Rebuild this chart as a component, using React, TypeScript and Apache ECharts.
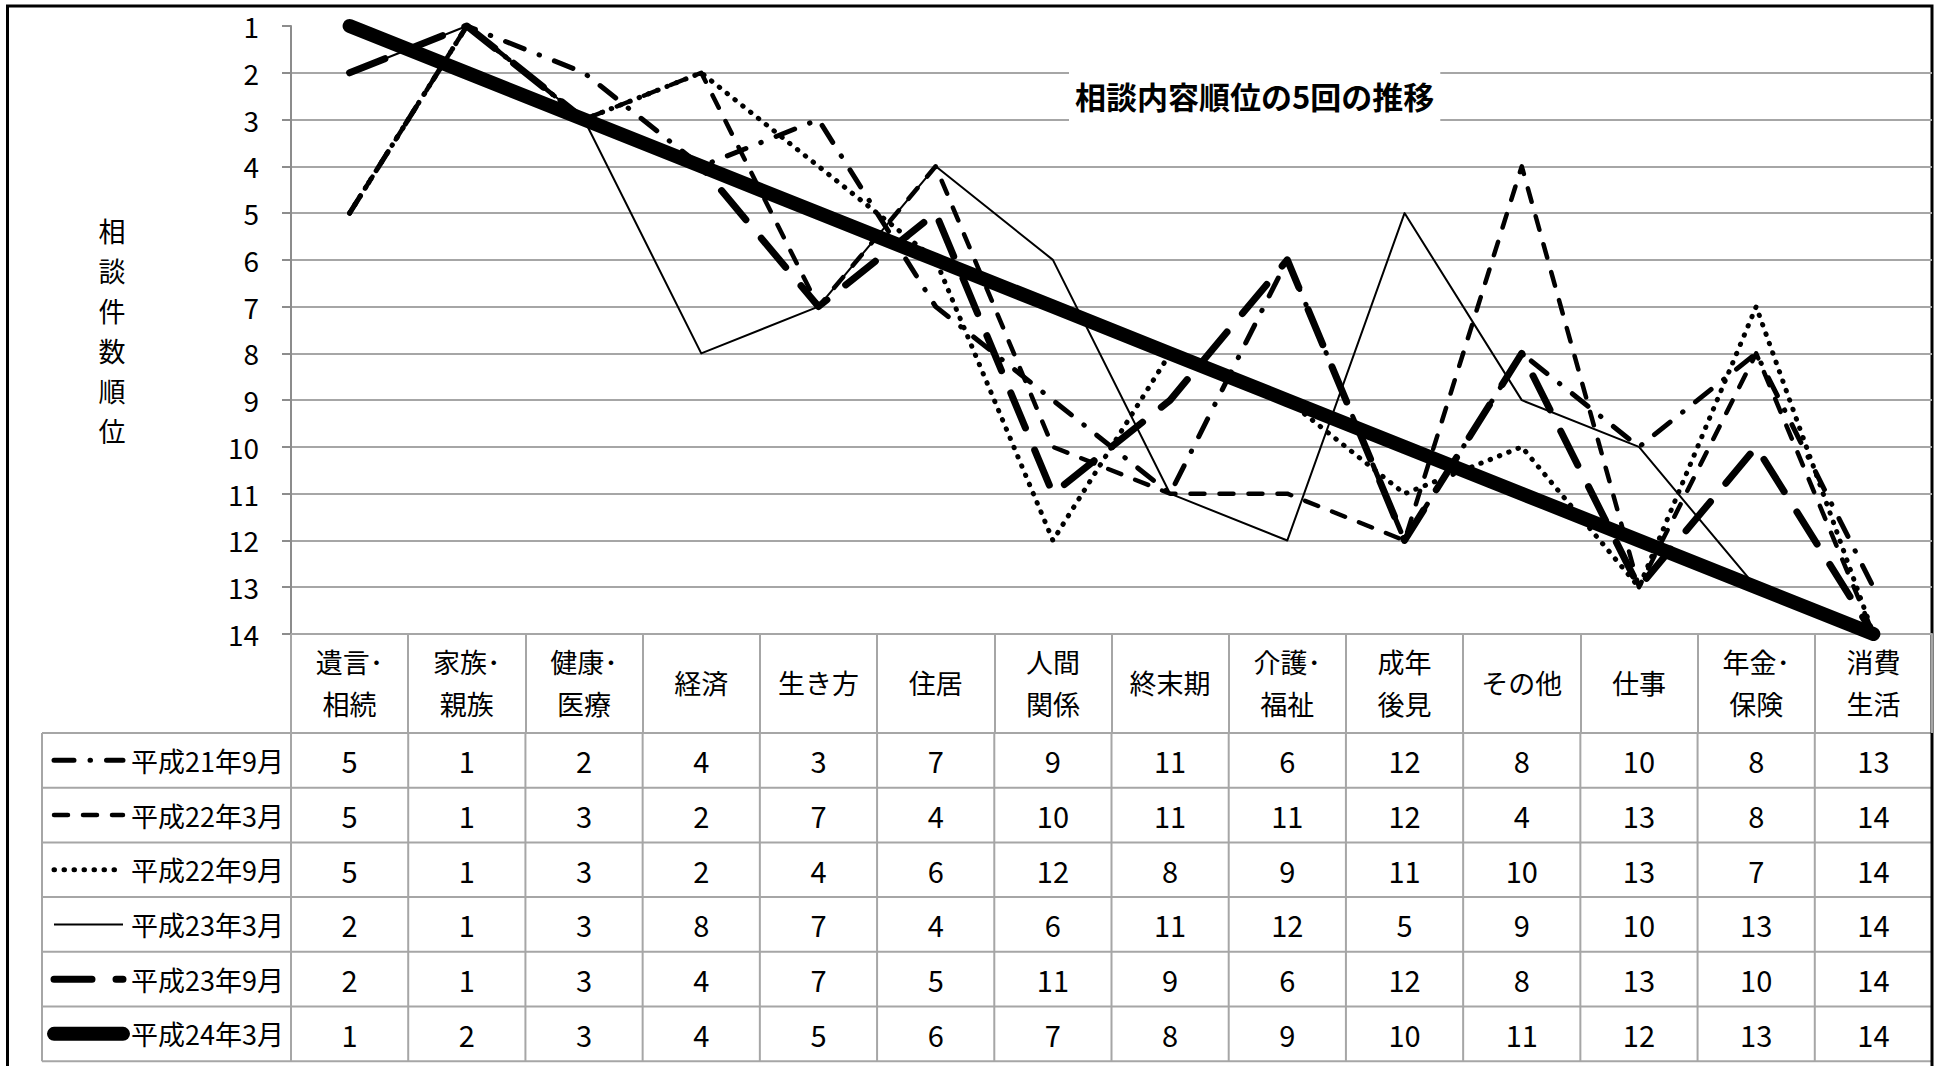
import React, { useEffect, useRef } from 'react';
import * as echarts from 'echarts';

// Consultation topics (x categories)
const categories = [
  '遺言･\n相続', '家族･\n親族', '健康･\n医療', '経済', '生き方', '住居', '人間\n関係',
  '終末期', '介護･\n福祉', '成年\n後見', 'その他', '仕事', '年金･\n保険', '消費\n生活',
];

// Survey rounds
const seriesNames = ['平成21年9月', '平成22年3月', '平成22年9月', '平成23年3月', '平成23年9月', '平成24年3月'];

// Rank of each topic per survey round
const rankH21Sep = [5, 1, 2, 4, 3, 7, 9, 11, 6, 12, 8, 10, 8, 13];
const rankH22Mar = [5, 1, 3, 2, 7, 4, 10, 11, 11, 12, 4, 13, 8, 14];
const rankH22Sep = [5, 1, 3, 2, 4, 6, 12, 8, 9, 11, 10, 13, 7, 14];
const rankH23Mar = [2, 1, 3, 8, 7, 4, 6, 11, 12, 5, 9, 10, 13, 14];
const rankH23Sep = [2, 1, 3, 4, 7, 5, 11, 9, 6, 12, 8, 13, 10, 14];
const rankH24Mar = [1, 2, 3, 4, 5, 6, 7, 8, 9, 10, 11, 12, 13, 14];

const rankRows = [rankH21Sep, rankH22Mar, rankH22Sep, rankH23Mar, rankH23Sep, rankH24Mar];

// Rank axis range
const rankMin = 1;
const rankMax = 14;

// Stroke style per round (dash-dot, dash, dot, thin solid, long dash, heavy solid)
const strokeStyles = [
  { width: 5, dash: [20, 16, 0.5, 16], cap: 'round' },
  { width: 4.5, dash: [14, 15], cap: 'round' },
  { width: 5, dash: [0.5, 9.5], cap: 'round' },
  { width: 2, dash: null, cap: 'butt' },
  { width: 7, dash: [38, 24], cap: 'round' },
  { width: 14, dash: null, cap: 'round' },
];

const W = 1945;
const H = 1066;
const GRID_LEFT = 291;
const GRID_RIGHT_X = 1932;
const GRID_TOP = 26;
const GRID_BOTTOM_Y = 634;
const HEADER_BOTTOM = 733;
const ROW_H = 54.7;
const TABLE_LEFT = 42;
const LEGEND_LINE_X0 = 54;
const LEGEND_LINE_X1 = 123;
const LEGEND_TEXT_RIGHT = 284;

const GRID_COLOR = '#a6a6a6';
const AXIS_COLOR = '#8c8c8c';
const CJK_FONT = '"Noto Sans CJK JP", "Noto Sans", sans-serif';
const NUM_FONT = '"Liberation Sans Narrow", "Noto Sans CJK JP", sans-serif';

function buildTable() {
  const els: any[] = [];
  const colW = (GRID_RIGHT_X - GRID_LEFT) / categories.length;
  const rows = seriesNames.length;
  const tableBottom = HEADER_BOTTOM + rows * ROW_H;
  const cellLine = { stroke: GRID_COLOR, lineWidth: 2 };

  for (let r = 0; r <= rows; r++) {
    const y = HEADER_BOTTOM + r * ROW_H;
    els.push({ type: 'line', silent: true, shape: { x1: TABLE_LEFT, y1: y, x2: GRID_RIGHT_X, y2: y }, style: cellLine });
  }
  const xs = [TABLE_LEFT];
  for (let c = 0; c <= categories.length; c++) xs.push(GRID_LEFT + c * colW);
  xs.forEach((x) => {
    els.push({ type: 'line', silent: true, shape: { x1: x, y1: HEADER_BOTTOM, x2: x, y2: tableBottom }, style: cellLine });
  });

  rankRows.forEach((row, r) => {
    const cy = HEADER_BOTTOM + (r + 0.5) * ROW_H;
    const s = strokeStyles[r];
    els.push({
      type: 'line',
      silent: true,
      shape: { x1: LEGEND_LINE_X0, y1: cy, x2: LEGEND_LINE_X1, y2: cy },
      style: { stroke: '#000', lineWidth: s.width, lineDash: s.dash || undefined, lineCap: s.cap },
    });
    els.push({
      type: 'text',
      silent: true,
      x: LEGEND_TEXT_RIGHT,
      y: cy,
      style: { text: seriesNames[r], align: 'right', verticalAlign: 'middle', fontSize: 27, fontFamily: NUM_FONT, fill: '#000' },
    });
    row.forEach((v, c) => {
      els.push({
        type: 'text',
        silent: true,
        x: GRID_LEFT + (c + 0.5) * colW,
        y: cy,
        style: { text: String(v), align: 'center', verticalAlign: 'middle', fontSize: 29, fontFamily: NUM_FONT, fill: '#000' },
      });
    });
  });

  // outer frame
  els.push({
    type: 'rect',
    silent: true,
    shape: { x: 7.5, y: 6, width: GRID_RIGHT_X - 7.5, height: H + 20 },
    style: { fill: 'none', stroke: '#000', lineWidth: 3 },
  });
  return els;
}

export default function App() {
  const ref = useRef<HTMLDivElement>(null);

  useEffect(() => {
    if (!ref.current) return;
    const chart = echarts.init(ref.current, null, { renderer: 'svg' });
    const option: any = {
      animation: false,
      backgroundColor: '#fff',
      title: {
        text: '相談内容順位の5回の推移',
        left: 1069,
        top: 50,
        padding: [30, 6],
        backgroundColor: '#fff',
        textStyle: { fontSize: 31, fontWeight: 'bold', fontFamily: CJK_FONT, color: '#000' },
      },
      grid: { left: GRID_LEFT, right: W - GRID_RIGHT_X, top: GRID_TOP, bottom: H - GRID_BOTTOM_Y, containLabel: false },
      xAxis: {
        type: 'category',
        data: categories,
        boundaryGap: true,
        axisLine: { lineStyle: { color: GRID_COLOR, width: 2 } },
        axisTick: { show: true, interval: 0, length: HEADER_BOTTOM - GRID_BOTTOM_Y, lineStyle: { color: GRID_COLOR, width: 2 } },
        axisLabel: {
          interval: 0,
          margin: 48,
          verticalAlign: 'middle',
          lineHeight: 42,
          fontSize: 27,
          fontFamily: CJK_FONT,
          color: '#000',
        },
        splitLine: { show: false },
      },
      yAxis: {
        type: 'value',
        inverse: true,
        min: rankMin,
        max: rankMax,
        interval: 1,
        name: '相\n談\n件\n数\n順\n位',
        nameLocation: 'middle',
        nameRotate: 0,
        nameGap: GRID_LEFT - 112,
        nameTextStyle: { fontSize: 27, lineHeight: 40, fontFamily: CJK_FONT, color: '#000', align: 'center', verticalAlign: 'middle' },
        axisLine: { show: true, lineStyle: { color: AXIS_COLOR, width: 2 } },
        axisTick: { show: true, length: 9, lineStyle: { color: AXIS_COLOR, width: 2 } },
        axisLabel: { margin: 32, fontSize: 28, fontFamily: NUM_FONT, color: '#000' },
        splitLine: { show: true, showMinLine: false, lineStyle: { color: GRID_COLOR, width: 2 } },
      },
      series: rankRows.map((row, i) => ({
        name: seriesNames[i],
        type: 'line',
        data: row,
        symbol: 'none',
        showSymbol: false,
        silent: true,
        clip: false,
        z: 2 + i,
        lineStyle: {
          color: '#000',
          width: strokeStyles[i].width,
          type: strokeStyles[i].dash || 'solid',
          cap: strokeStyles[i].cap,
          join: 'round',
        },
      })),
      graphic: buildTable(),
    };
    chart.setOption(option);
    return () => chart.dispose();
  }, []);

  return (
    <div
      ref={ref}
      style={{ position: 'absolute', left: 0, top: 0, width: W, height: H, background: '#fff' }}
    />
  );
}
